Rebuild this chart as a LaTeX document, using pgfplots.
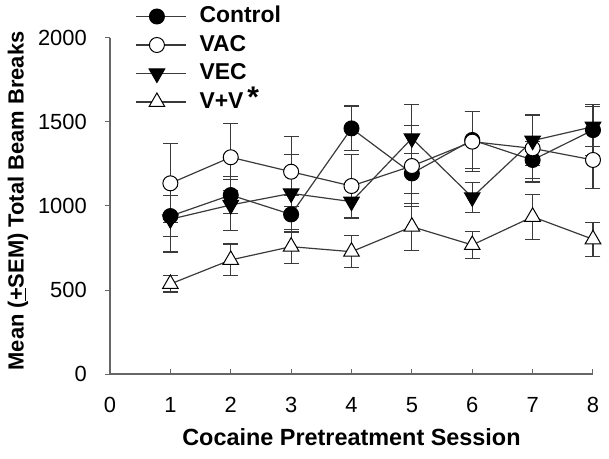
\documentclass[border=0pt]{standalone}
\usepackage{pgfplots}
\pgfplotsset{compat=1.18}
\usepackage{fontspec}
\setmainfont{Liberation Sans}
\definecolor{ln}{HTML}{3A3A3A}
\begin{document}
\begin{tikzpicture}
\begin{axis}[
  scale only axis, width=483bp, height=336bp,
  at={(0,0)}, anchor=south west,
  xmin=0, xmax=8, ymin=0, ymax=2000,
  axis x line*=bottom, axis y line*=left,
  axis line style={-, draw=black!60, line width=1.1bp},
  xtick={0,1,...,8}, ytick={0,500,1000,1500,2000},
  xtick align=inside, ytick align=outside,
  major tick length=5bp,
  tick style={black!60, line width=1bp},
  /pgf/number format/assume math mode=true,
  /pgf/number format/1000 sep={},
  ticklabel style={font=\fontsize{22}{22}\selectfont},
  xticklabel style={inner sep=0pt, anchor=north, yshift=-23bp},
  yticklabel style={inner sep=0pt, anchor=east, xshift=-18bp},
  xlabel={\bfseries Cocaine Pretreatment Session},
  ylabel={\bfseries Mean (\underline{+}SEM) Total Beam Breaks},
  xlabel style={font=\fontsize{23.5}{24}\selectfont, at={(rel axis cs:0.5,-0.1875)}, anchor=center},
  ylabel style={font=\fontsize{22}{22}\selectfont, at={(rel axis cs:-0.1905,0.515)}, anchor=center, rotate=0},
  error bars/y dir=both, error bars/y explicit,
  error bars/error bar style={line width=1.1bp, draw=ln, solid},
  error bars/error mark options={rotate=90, mark size=7.5bp, line width=1.1bp, draw=ln},
  legend style={at={(rel axis cs:0.052,1.107)}, anchor=north west, draw=none, fill=none,
    inner sep=0pt, font=\fontsize{23}{23}\selectfont\bfseries,
    nodes={text height=17bp, text depth=4bp, inner ysep=3.75bp},
    /tikz/every odd column/.append style={column sep=11bp}},
  legend cell align=left,
  legend image code/.code={\draw[#1,mark repeat=2,mark phase=2] plot coordinates {(0bp,0bp) (21bp,0bp) (50bp,0bp)};},
  clip=false,
]
\addplot[draw=ln, line width=1.2bp, mark=*, mark size=7.5bp, mark options={fill=black, draw=black, line width=1bp}]
  coordinates {(1,940) +- (0,120) (2,1065) +- (0,110) (3,950) +- (0,110) (4,1462) +- (0,133)
               (5,1194) +- (0,120) (6,1393) +- (0,170) (7,1274) +- (0,110) (8,1452) +- (0,150)};
\addlegendentry{Control}
\addplot[draw=ln, line width=1.2bp, mark=*, mark size=7.5bp, mark options={fill=white, draw=black, line width=1bp}]
  coordinates {(1,1135) +- (0,235) (2,1290) +- (0,200) (3,1204) +- (0,209) (4,1119) +- (0,190)
               (5,1238) +- (0,240) (6,1383) +- (0,180) (7,1343) +- (0,200) (8,1274) +- (0,170)};
\addlegendentry{VAC}
\addplot[draw=ln, line width=1.2bp, mark=triangle*, mark size=9bp, mark options={fill=black, draw=black, line width=1bp, rotate=180}]
  coordinates {(1,921) +- (0,195) (2,1006) +- (0,150) (3,1075) +- (0,230) (4,1026) +- (0,100)
               (5,1403) +- (0,200) (6,1052) +- (0,90) (7,1389) +- (0,150) (8,1472) +- (0,120)};
\addlegendentry{VEC}
\addplot[draw=ln, line width=1.2bp, mark=triangle*, mark size=9bp, mark options={fill=white, draw=black, line width=1bp}]
  coordinates {(1,536) +- (0,48) (2,679) +- (0,95) (3,758) +- (0,100) (4,728) +- (0,95)
               (5,877) +- (0,140) (6,768) +- (0,80) (7,936) +- (0,135) (8,802) +- (0,100)};
\addlegendentry{V+V\,\raisebox{1bp}{\fontsize{30}{30}\selectfont *}}
\end{axis}
\pgfresetboundingbox
\useasboundingbox (-110bp,-85bp) rectangle (499bp,374bp);
\end{tikzpicture}
\end{document}
